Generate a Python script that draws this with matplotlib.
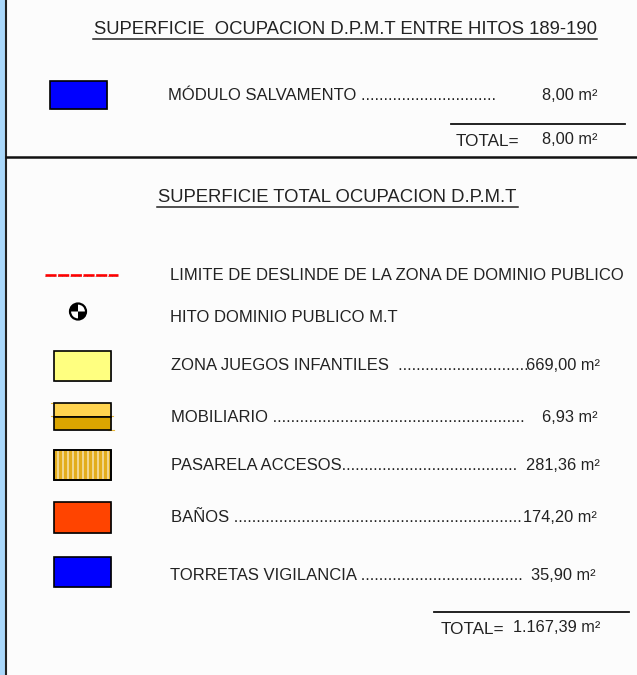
import matplotlib
matplotlib.use("Agg")
import matplotlib.pyplot as plt
from matplotlib.patches import Rectangle, Wedge, Circle

plt.rcParams['font.family'] = ['Liberation Sans', 'DejaVu Sans']

W, H = 637, 675
fig = plt.figure(figsize=(W / 100, H / 100), dpi=100, facecolor='#fcfcfc')
ax = fig.add_axes([0, 0, 1, 1])
ax.set_xlim(0, W)
ax.set_ylim(H, 0)
ax.axis('off')

TXT = '#222222'
FS = 12.0
FS_TITLE = 13.35
FS_VAL = 11.8

title_top = "SUPERFICIE  OCUPACION D.P.M.T ENTRE HITOS 189-190"
title_total = "SUPERFICIE TOTAL OCUPACION D.P.M.T"

labels = [
    "MÓDULO SALVAMENTO " + "." * 30,
    "LIMITE DE DESLINDE DE LA ZONA DE DOMINIO PUBLICO",
    "HITO DOMINIO PUBLICO M.T",
    "ZONA JUEGOS INFANTILES  " + "." * 29,
    "MOBILIARIO " + "." * 56,
    "PASARELA ACCESOS" + "." * 39,
    "BAÑOS " + "." * 64,
    "TORRETAS VIGILANCIA " + "." * 36,
]
label_x = [168, 170, 170, 171, 171, 171, 171, 170]
label_y = [96, 275, 317, 365, 417, 466, 517, 575]

values = ["8,00 m²", "669,00 m²", "6,93 m²", "281,36 m²", "174,20 m²", "35,90 m²"]
value_right = [597, 600, 598, 600, 597, 596]
value_y = [96, 365, 417, 466, 517, 575]

total_labels = ["TOTAL=", "TOTAL="]
total_values = ["8,00 m²", "1.167,39 m²"]

# frame
ax.add_patch(Rectangle((0, 0), 5, H, fc='#aad8fb', ec='none'))
ax.plot([5.5, 5.5], [0, H], color='#222222', lw=1.5, solid_capstyle='butt')
ax.plot([5, W], [157, 157], color='#111111', lw=1.8, solid_capstyle='butt')

# titles
ax.text(345, 29.5, title_top, fontsize=FS_TITLE, color=TXT, ha='center', va='center')
ax.plot([93, 597], [39, 39], color='#222222', lw=1.1)
ax.text(337.5, 197.5, title_total, fontsize=FS_TITLE, color=TXT, ha='center', va='center')
ax.plot([157, 518], [207, 207], color='#222222', lw=1.1)

# text rows
for s, x, y in zip(labels, label_x, label_y):
    ax.text(x, y, s, fontsize=FS, color=TXT, ha='left', va='center')
for s, x, y in zip(values, value_right, value_y):
    ax.text(x, y, s, fontsize=FS_VAL, color=TXT, ha='right', va='center')

# totals
ax.plot([451, 625], [123.5, 123.5], color='#111111', lw=1.3)
ax.text(456, 141, total_labels[0], fontsize=12.3, color=TXT, va='center')
ax.text(598, 140, total_values[0], fontsize=FS_VAL, color=TXT, ha='right', va='center')
ax.plot([434, 629], [612, 612], color='#111111', lw=1.3)
ax.text(441, 630, total_labels[1], fontsize=12.3, color=TXT, va='center')
ax.text(600, 628, total_values[1], fontsize=FS_VAL, color=TXT, ha='right', va='center')


def box(x, y, w, h, fc, z=3):
    ax.add_patch(Rectangle((x + 1, y + 1), w, h, fc='#00000040', ec='none', zorder=z - 1))
    ax.add_patch(Rectangle((x, y), w, h, fc=fc, ec='black', lw=1.2, zorder=z))


# swatches
box(50, 81, 57, 28, '#0000ff')
box(54, 351, 57, 30, '#ffff80')
box(54, 403, 57, 14, '#ffd34f')
box(54, 417, 57, 13, '#dba500')
box(54, 450, 57, 30, '#e3ad1c')
for x in range(57, 110, 5):
    ax.add_patch(Rectangle((x, 451), 2.4, 28, fc='#f0d58c', ec='none', zorder=4))
ax.add_patch(Rectangle((54, 450), 57, 30, fc='none', ec='black', lw=1.2, zorder=5))
box(54, 502, 57, 31, '#ff4400')
box(54, 557, 57, 30, '#0000ff')
for y, x0, x1 in [(403, 51, 56), (416, 51, 113), (430, 108, 114)]:
    ax.plot([x0, x1], [y, y], color='#e8b83a', lw=0.8, zorder=2)

# red boundary line
ax.plot([45, 118], [274.5, 274.5], color='#ff0000', lw=1.9, ls=(0, (4.2, 0.6)), zorder=3)
ax.plot([45, 118], [275.5, 275.5], color='#555555', lw=0.4, ls=(0, (1.5, 6)), zorder=4)

# marker
cx, cy = 78, 311.5
ax.add_patch(Circle((cx, cy), 8, fc='white', ec='black', lw=1.6, zorder=3))
ax.add_patch(Wedge((cx, cy), 8, 0, 90, fc='black', ec='none', zorder=4))
ax.add_patch(Wedge((cx, cy), 8, 180, 270, fc='black', ec='none', zorder=4))

fig.savefig('out.png', dpi=100, facecolor=fig.get_facecolor())
